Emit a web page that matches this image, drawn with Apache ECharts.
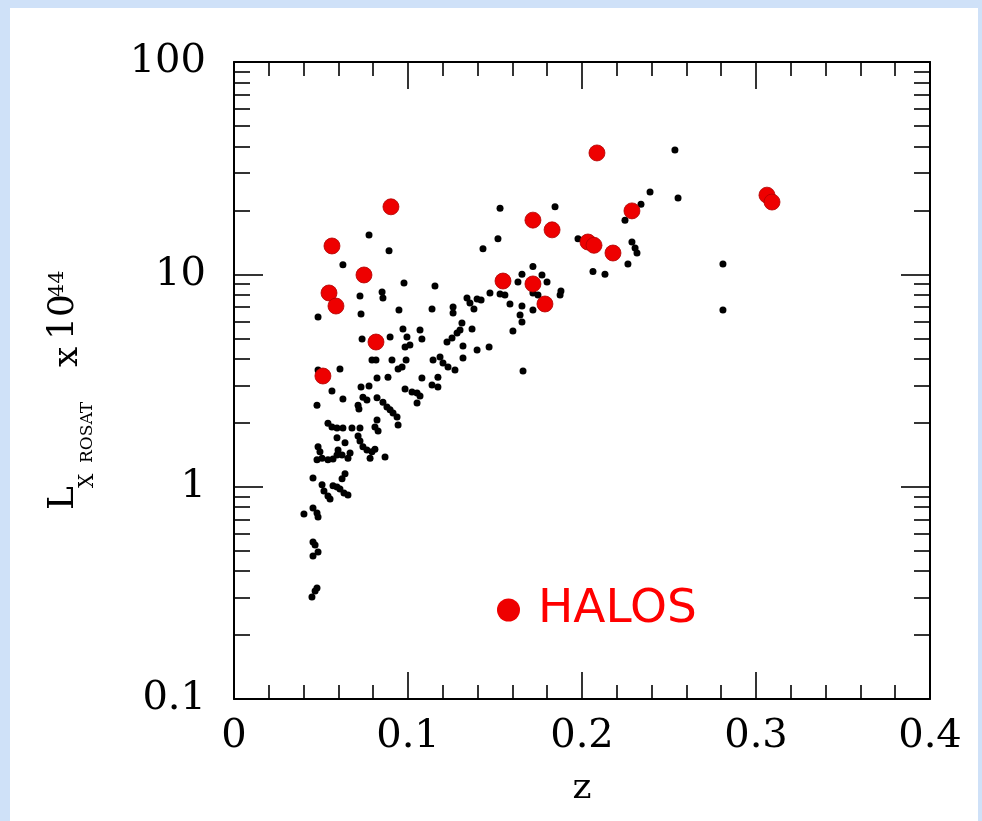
<!DOCTYPE html>
<html><head><meta charset="utf-8">
<script src="https://cdn.jsdelivr.net/npm/echarts@6/dist/echarts.min.js"></script>
<style>html,body{margin:0;padding:0;background:#cfe1f8;} #c{width:982px;height:821px;}</style>
</head><body><div id="c"></div>
<script>
// Redshift z and L_X (ROSAT, 1e44 erg/s) of the cluster sample (black dots)
const clusterZ = [0.0776,0.0891,0.0626,0.0977,0.1155,0.0724,0.0851,0.0856,0.0483,0.0730,0.0948,0.1138,0.1259,0.1259,0.1339,0.1356,0.1379,0.1397,0.1420,
0.0736,0.0897,0.0971,0.0994,0.1011,0.0983,0.1069,0.1080,0.1224,0.1282,0.1299,0.1316,0.0793,0.0816,0.0908,0.0989,0.0943,0.0966,0.1144,0.1184,0.1201,0.1230,0.1316,0.1270,0.1397,0.1466,
0.0483,0.0609,0.0822,0.0885,0.1080,0.1172,0.1310,0.1368,0.1253,
0.0563,0.0477,0.0626,0.0730,0.0776,0.0741,0.0764,0.0713,0.0718,0.0822,0.0856,0.0879,0.0897,0.0914,0.0983,0.1023,0.1052,0.1069,0.1052,0.1138,0.1172,
0.0937,0.0943,0.0822,0.0810,0.0828,0.0540,0.0563,0.0592,0.0626,0.0678,0.0724,0.0592,0.0713,0.0724,0.0638,0.0483,0.0494,0.0598,0.0592,0.0741,0.0764,0.0793,0.0810,0.0667,0.0655,
0.0477,0.0506,0.0540,0.0569,0.0621,0.0782,0.0868,0.0454,0.0638,0.0621,0.0506,0.0517,0.0540,0.0552,0.0569,0.0592,0.0609,0.0632,0.0655,
0.0402,0.0454,0.0477,0.0483,0.0454,0.0466,0.0483,0.0454,0.0477,0.0466,0.0448,
0.1529,0.1845,0.1517,0.1431,0.1977,0.2287,0.2305,0.2316,0.2264,0.2063,0.2132,0.1718,0.1655,0.1632,0.1770,0.1799,0.1879,0.1874,0.1718,0.1747,
0.1529,0.1557,0.1471,0.1586,0.1655,0.1644,0.1655,0.1718,0.1603,0.1661,0.2534,0.2391,0.2552,0.2339,0.2247,0.2810,0.2810];
const clusterL = [15.3,12.9,11.1,9.10,8.81,7.91,8.26,7.74,6.30,6.51,6.79,6.87,7.02,6.58,7.74,7.33,6.87,7.65,7.57,
4.96,5.07,5.53,5.07,4.65,4.55,5.47,4.96,4.80,5.29,5.47,4.60,3.95,3.95,3.95,3.95,3.58,3.66,3.95,4.08,3.82,3.66,4.04,3.54,4.40,4.55,
3.54,3.58,3.25,3.28,3.25,3.28,5.90,5.53,5.01,
2.82,2.42,2.59,2.95,2.98,2.64,2.56,2.42,2.32,2.62,2.50,2.37,2.30,2.22,2.88,2.79,2.76,2.67,2.48,3.01,2.95,
2.13,1.95,2.06,1.91,1.83,1.99,1.91,1.89,1.89,1.89,1.89,1.70,1.73,1.64,1.61,1.54,1.46,1.49,1.41,1.54,1.49,1.46,1.50,1.44,1.36,
1.34,1.36,1.34,1.35,1.41,1.36,1.38,1.10,1.15,1.09,1.02,0.954,0.904,0.875,1.01,0.996,0.975,0.934,0.913,
0.743,0.793,0.751,0.720,0.549,0.531,0.492,0.471,0.333,0.323,0.302,
20.5,20.8,14.7,13.2,14.7,14.2,13.3,12.6,11.2,10.3,10.0,10.9,10.0,9.20,9.93,9.20,8.35,7.99,8.17,7.99,
8.08,7.99,8.17,7.25,7.09,6.44,5.96,6.79,5.41,3.51,38.5,24.4,22.9,21.4,18.0,11.2,6.79];
// HALOS (red dots)
const haloZ = [0.0511,0.0546,0.0586,0.0563,0.0747,0.0816,0.0902,0.1546,0.1718,0.1718,0.1787,0.1828,0.2034,0.2069,0.2178,0.2086,0.2287,0.3063,0.3092];
const haloL = [3.32,8.17,7.09,13.6,9.93,4.80,20.8,9.30,18.0,9.01,7.25,16.2,14.2,13.7,12.6,37.3,19.9,23.6,21.9];

const xMin = 0, xMax = 0.4, xStep = 0.1;
const yMajor = [0.1, 1, 10, 100];
const yMajorLabels = ['0.1', '1', '10', '100'];
const yMinor = [0.2,0.3,0.4,0.5,0.6,0.7,0.8,0.9,2,3,4,5,6,7,8,9,20,30,40,50,60,70,80,90];
const legendName = 'HALOS';
const xName = 'z';

const serif = '"DejaVu Serif", "Liberation Serif", serif';
const clusterData = clusterZ.map((z, i) => [z, clusterL[i]]);
const haloData = haloZ.map((z, i) => [z, haloL[i]]);

function yFmt(v) {
  for (let i = 0; i < yMajor.length; i++) {
    if (Math.abs(Math.log10(v) - Math.log10(yMajor[i])) < 1e-6) return yMajorLabels[i];
  }
  return '';
}
const lineBlack = { color: '#000', width: 2 };
function yAxisDef(pos, major, labels) {
  return {
    type: 'log', logBase: 10, min: 0.1, max: 100, position: pos,
    axisLine: { show: major, lineStyle: lineBlack },
    axisTick: { show: true, inside: true, length: major ? 29 : 16, customValues: major ? yMajor : yMinor,
      lineStyle: { color: '#000', width: 1.6 } },
    axisLabel: { show: labels, customValues: yMajor, formatter: yFmt, margin: 28,
      fontFamily: serif, fontSize: 40, color: '#000' },
    splitLine: { show: false }, minorTick: { show: false }, minorSplitLine: { show: false }
  };
}
function xAxisDef(pos, labels) {
  return {
    type: 'value', min: xMin, max: xMax, interval: xStep, position: pos,
    name: labels ? xName : '', nameLocation: 'middle', nameGap: 72,
    nameTextStyle: { fontFamily: serif, fontSize: 36, color: '#000' },
    axisLine: { onZero: false, lineStyle: lineBlack },
    axisTick: { inside: true, length: 27, lineStyle: { color: '#000', width: 1.6 } },
    minorTick: { show: true, splitNumber: 5, length: 14, lineStyle: { color: '#000', width: 1.6 } },
    axisLabel: { show: labels, margin: 18, fontFamily: serif, fontSize: 40, color: '#000' },
    splitLine: { show: false }, minorSplitLine: { show: false }
  };
}

const chart = echarts.init(document.getElementById('c'), null, { renderer: 'canvas' });
chart.setOption({
  backgroundColor: '#cfe1f8',
  animation: false,
  grid: { left: 234, top: 62, width: 696, height: 637, containLabel: false, outerBoundsMode: 'none' },
  xAxis: [xAxisDef('bottom', true), xAxisDef('top', false)],
  yAxis: [yAxisDef('left', true, true), yAxisDef('left', false, false), yAxisDef('right', true, false), yAxisDef('right', false, false)],
  legend: {
    data: [legendName], left: 492, top: 581, icon: 'circle', itemWidth: 23, itemHeight: 23, itemGap: 0,
    selectedMode: false,
    itemStyle: { borderWidth: 0 },
    textStyle: { color: '#ff0000', fontFamily: '"DejaVu Sans", sans-serif', fontSize: 47, lineHeight: 48, padding: [0, 0, 0, 13] }
  },
  graphic: [
    { type: 'rect', shape: { x: 10, y: 8, width: 968, height: 813 }, style: { fill: '#ffffff' }, z: -10, silent: true },
    { type: 'group', x: 0, y: 510, rotation: Math.PI / 2, silent: true, children: [
      { type: 'text', x: 0, y: 64, style: { text: 'L', font: '36px ' + serif, fill: '#000', textVerticalAlign: 'middle' } },
      { type: 'text', x: 22, y: 88, style: { text: 'X', font: '20px ' + serif, fill: '#000', textVerticalAlign: 'middle' } },
      { type: 'text', x: 47, y: 88, style: { text: 'ROSAT', font: '17px ' + serif, fill: '#000', textVerticalAlign: 'middle' } },
      { type: 'text', x: 143, y: 68, style: { text: 'x', font: '36px ' + serif, fill: '#000', textVerticalAlign: 'middle' } },
      { type: 'text', x: 170, y: 64, style: { text: '10', font: '36px ' + serif, fill: '#000', textVerticalAlign: 'middle' } },
      { type: 'text', x: 213, y: 58, style: { text: '44', font: '21px ' + serif, fill: '#000', textVerticalAlign: 'middle' } }
    ] }
  ],
  series: [
    { name: 'clusters', type: 'scatter', data: clusterData, symbol: 'circle', symbolSize: 7,
      itemStyle: { color: '#000', opacity: 1 }, xAxisIndex: 0, yAxisIndex: 0, z: 3 },
    { name: legendName, type: 'scatter', data: haloData, symbol: 'circle', symbolSize: 16,
      itemStyle: { color: '#ee0000', borderColor: '#b00000', borderWidth: 0.8, opacity: 1 }, xAxisIndex: 0, yAxisIndex: 0, z: 4 }
  ]
});
</script></body></html>
